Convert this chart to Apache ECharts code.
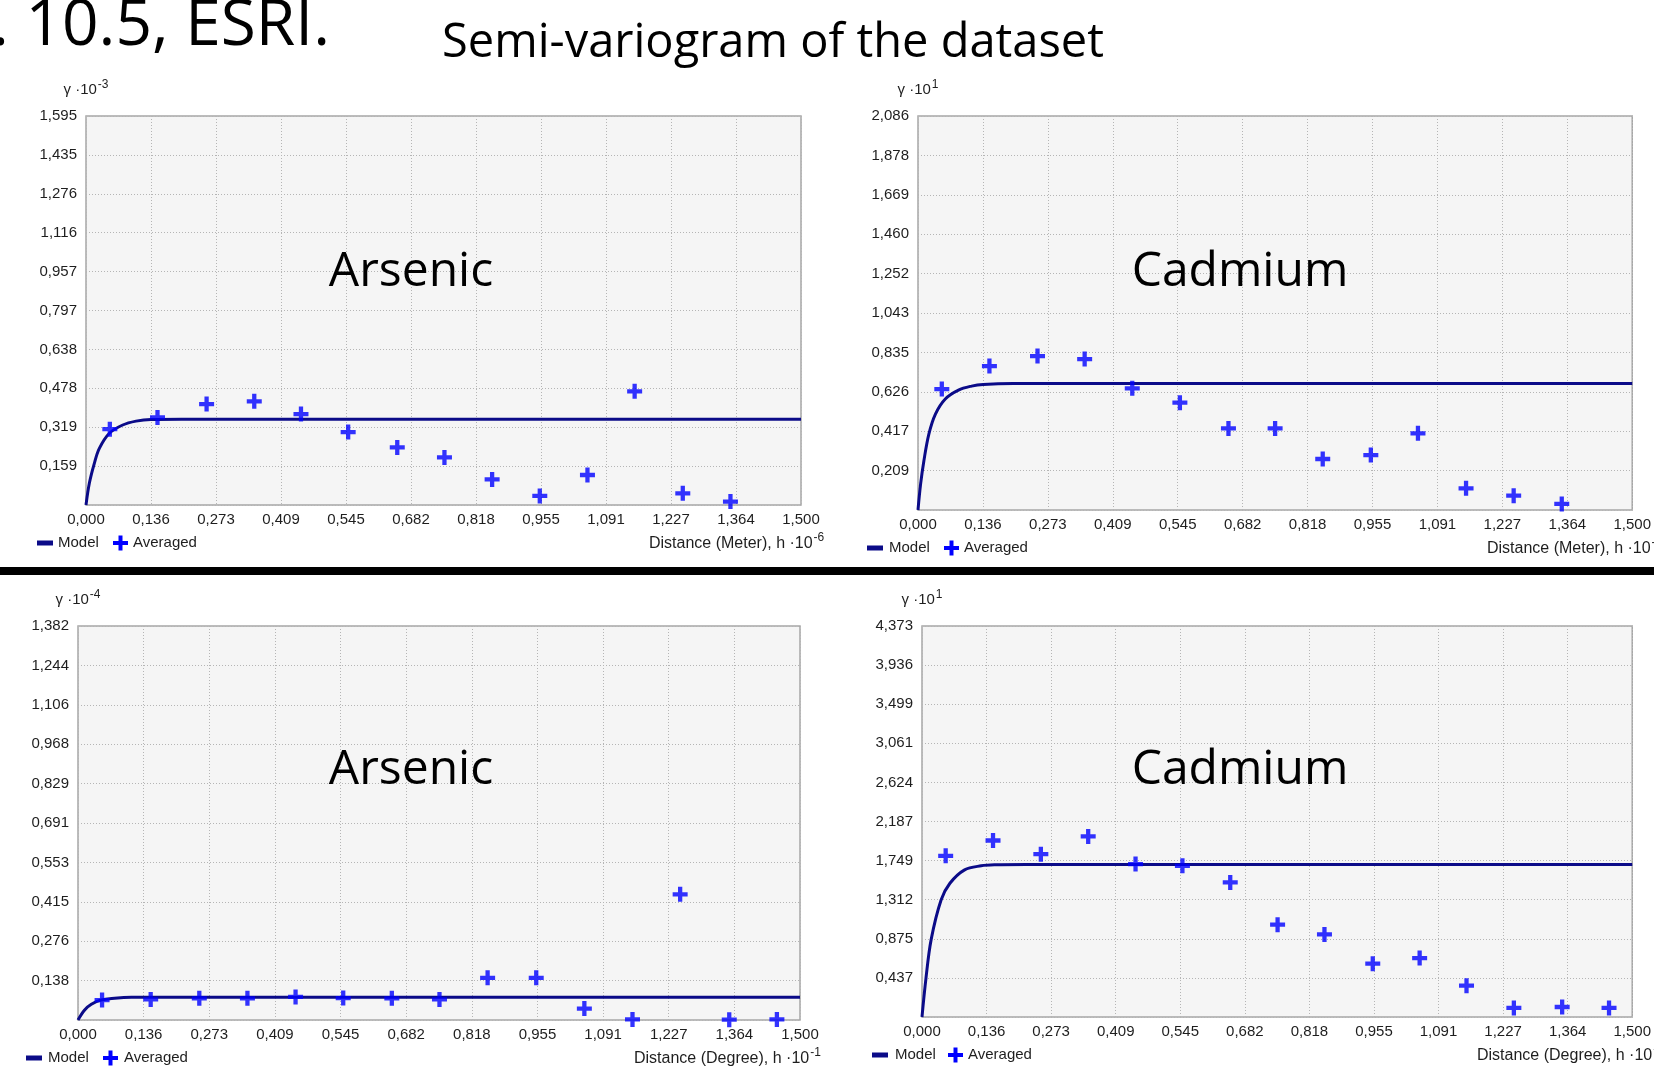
<!DOCTYPE html>
<html><head><meta charset="utf-8">
<script src="https://cdn.jsdelivr.net/npm/echarts@6/dist/echarts.min.js"></script>
<style>html,body{margin:0;padding:0;background:#fff;overflow:hidden}#c{width:1654px;height:1070px}</style>
</head><body><div id="c"></div>
<script>
// ---------- shared x axis ----------
const xTickLabels = ['0,000','0,136','0,273','0,409','0,545','0,682','0,818','0,955','1,091','1,227','1,364','1,500'];
const xMax = 1.5;

// ---------- Panel 1: Arsenic (Meter) ----------
const as1Ticks = ['','0,159','0,319','0,478','0,638','0,797','0,957','1,116','1,276','1,435','1,595'];
const as1YMax = 1.595;
const as1LagX = [0.05,0.15,0.253,0.353,0.451,0.55,0.653,0.752,0.852,0.952,1.052,1.151,1.252,1.352];
const as1Avg  = [0.311,0.359,0.414,0.425,0.373,0.299,0.236,0.195,0.105,0.037,0.123,0.466,0.048,0.014];
const as1ModelX = [0,0.007,0.0175,0.028,0.049,0.077,0.105,0.136,0.2,1.5];
const as1ModelY = [0,0.089,0.171,0.232,0.294,0.328,0.344,0.351,0.352,0.352];

// ---------- Panel 2: Cadmium (Meter) ----------
const cd1Ticks = ['','0,209','0,417','0,626','0,835','1,043','1,252','1,460','1,669','1,878','2,086'];
const cd1YMax = 2.086;
const cd1LagX = [0.05,0.15,0.251,0.35,0.45,0.55,0.652,0.75,0.85,0.951,1.05,1.151,1.251,1.352];
const cd1Avg  = [0.640,0.762,0.815,0.799,0.644,0.568,0.432,0.432,0.270,0.291,0.406,0.115,0.076,0.032];
const cd1ModelX = [0,0.0055,0.0124,0.0228,0.0366,0.0573,0.085,0.1125,0.137,0.2,1.5];
const cd1ModelY = [0,0.138,0.261,0.402,0.508,0.588,0.635,0.656,0.665,0.670,0.670];

// ---------- Panel 3: Arsenic (Degree) ----------
const as2Ticks = ['','0,138','0,276','0,415','0,553','0,691','0,829','0,968','1,106','1,244','1,382'];
const as2YMax = 1.382;
const as2LagX = [0.05,0.151,0.252,0.352,0.452,0.551,0.652,0.751,0.851,0.952,1.052,1.152,1.251,1.353,1.452];
const as2Avg  = [0.070,0.072,0.076,0.076,0.081,0.077,0.076,0.072,0.148,0.148,0.040,0.002,0.441,0.001,0.002];
const as2ModelX = [0,0.0138,0.0277,0.048,0.076,0.111,0.16,1.5];
const as2ModelY = [0,0.035,0.055,0.070,0.076,0.0795,0.080,0.080];

// ---------- Panel 4: Cadmium (Degree) ----------
const cd2Ticks = ['','0,437','0,875','1,312','1,749','2,187','2,624','3,061','3,499','3,936','4,373'];
const cd2YMax = 4.373;
const cd2LagX = [0.05,0.15,0.251,0.351,0.451,0.55,0.651,0.751,0.85,0.952,1.051,1.15,1.25,1.352,1.451];
const cd2Avg  = [1.803,1.974,1.821,2.019,1.710,1.691,1.505,1.032,0.924,0.596,0.659,0.350,0.101,0.112,0.101];
const cd2ModelX = [0,0.0083,0.0194,0.0403,0.059,0.09,0.125,0.153,0.22,1.5];
const cd2ModelY = [0,0.430,0.868,1.309,1.496,1.646,1.691,1.702,1.705,1.705];

// ---------- texts ----------
const pageTitle = 'Semi-variogram of the dataset';
const cornerText = '. 10.5, ESRI.';
const panelNames = ['Arsenic','Cadmium','Arsenic','Cadmium'];
const yExp = ['-3','1','-4','1'];
const xTitles = ['Distance (Meter), h ·10','Distance (Meter), h ·10','Distance (Degree), h ·10','Distance (Degree), h ·10'];
const xExp = ['-6','-6','-1','-1'];
const legendNames = ['Model','Averaged'];

// ---------- layout (px) ----------
const grids = [
  {left:86, top:116, width:715, height:389},
  {left:918, top:116, width:724, height:394},
  {left:78, top:626, width:722, height:394},
  {left:922, top:626, width:720, height:391}
];
const panels = [
  {ticks:as1Ticks, yMax:as1YMax, lagX:as1LagX, avg:as1Avg, mx:as1ModelX, my:as1ModelY},
  {ticks:cd1Ticks, yMax:cd1YMax, lagX:cd1LagX, avg:cd1Avg, mx:cd1ModelX, my:cd1ModelY},
  {ticks:as2Ticks, yMax:as2YMax, lagX:as2LagX, avg:as2Avg, mx:as2ModelX, my:as2ModelY},
  {ticks:cd2Ticks, yMax:cd2YMax, lagX:cd2LagX, avg:cd2Avg, mx:cd2ModelX, my:cd2ModelY}
];
const labelPos = [[411,272],[1240,272],[411,770],[1240,770]];
const legendY = [543,548,1058,1055];
const legendX = [ // icon, modelText, plus, averagedText
  [37,58,113,133],[867,889,944,964],[26,48,103,124],[872,895,948,968]
];
const xTitleX = [649,1487,634,1477];
const xTitleY = [543,548,1058,1055];

const crossPath = 'path://M5,0H9V5H14V9H9V14H5V9H0V5H5Z';
const LINE_COLOR = '#0b0b88';
const PT_COLOR = '#0000ff';
const TXT = '#1e1e1e';
const tickFont = '"Liberation Sans", Arial, sans-serif';
const bigFont = '"Open Sans", "Noto Sans", sans-serif';

const xStep = xMax / 11;
const option = {
  animation: false,
  backgroundColor: '#ffffff',
  grid: grids.map(g => Object.assign({show:true, backgroundColor:'#f5f5f5', borderColor:'#a6a6a6', borderWidth:1.5, containLabel:false}, g)),
  xAxis: panels.map((p,i) => ({
    type:'value', gridIndex:i, min:0, max:xMax, interval:xStep,
    axisLine:{show:false}, axisTick:{show:false},
    splitLine:{show:true, lineStyle:{color:'#b5b5b5', width:1, type:[1,2]}},
    axisLabel:{margin:7, color:TXT, fontSize:15, fontFamily:tickFont, showMinLabel:true, showMaxLabel:true,
      formatter: v => xTickLabels[Math.round(v / xStep)] || ''}
  })),
  yAxis: panels.map((p,i) => ({
    type:'value', gridIndex:i, min:0, max:p.yMax, interval:p.yMax/10,
    axisLine:{show:false}, axisTick:{show:false},
    splitLine:{show:true, lineStyle:{color:'#b5b5b5', width:1, type:[1,2]}},
    axisLabel:{margin:9, color:TXT, fontSize:15, fontFamily:tickFont, showMinLabel:true, showMaxLabel:true,
      formatter: v => p.ticks[Math.round(v / (p.yMax/10))] || ''},
    name:'{n|γ ·10}{s|' + yExp[i] + '}', nameLocation:'end', nameGap:16,
    nameTextStyle:{align:'center', rich:{
      n:{fontSize:15, fontFamily:tickFont, color:TXT},
      s:{fontSize:12, fontFamily:tickFont, color:TXT, padding:[0,0,9,1]}
    }}
  })),
  series: panels.flatMap((p,i) => [
    {type:'line', name:legendNames[0], xAxisIndex:i, yAxisIndex:i,
     data:p.mx.map((x,j)=>[x,p.my[j]]), smooth:0.35,
     symbol:'none', showSymbol:false, lineStyle:{color:LINE_COLOR, width:3}, z:3, silent:true},
    {type:'scatter', name:legendNames[1], xAxisIndex:i, yAxisIndex:i,
     data:p.lagX.map((x,j)=>[x,p.avg[j]]), symbol:crossPath, symbolSize:15,
     itemStyle:{color:PT_COLOR}, z:4, clip:false}
  ]),
  graphic: [].concat(
    [
      {type:'text', x:773, y:44, style:{text:pageTitle, font:'47px ' + bigFont, fill:'#000', align:'center', verticalAlign:'middle'}},
      {type:'text', x:330, y:27, style:{text:cornerText, font:'64px ' + bigFont, fill:'#000', align:'right', verticalAlign:'middle'}},
      {type:'rect', shape:{x:0, y:567, width:1654, height:8}, style:{fill:'#000'}}
    ],
    labelPos.map((pos,i) => ({type:'text', x:pos[0], y:pos[1], z:10,
      style:{text:panelNames[i], font:'48px ' + bigFont, fill:'#000', align:'center', verticalAlign:'middle'}})),
    legendX.flatMap((lx,i) => {
      const y = legendY[i];
      return [
        {type:'rect', shape:{x:lx[0], y:y-2.5, width:16, height:5}, style:{fill:LINE_COLOR}},
        {type:'text', x:lx[1], y:y, style:{text:legendNames[0], font:'15px ' + tickFont, fill:TXT, align:'left', verticalAlign:'middle'}},
        {type:'rect', shape:{x:lx[2], y:y-2, width:15, height:4}, style:{fill:PT_COLOR}},
        {type:'rect', shape:{x:lx[2]+5.5, y:y-7.5, width:4, height:15}, style:{fill:PT_COLOR}},
        {type:'text', x:lx[3], y:y, style:{text:legendNames[1], font:'15px ' + tickFont, fill:TXT, align:'left', verticalAlign:'middle'}}
      ];
    }),
    xTitleX.map((x,i) => ({type:'text', x:x, y:xTitleY[i]-11,
      style:{text:'{n|' + xTitles[i] + '}{s|' + xExp[i] + '}', align:'left', verticalAlign:'top',
        rich:{
          n:{fontSize:16, fontFamily:tickFont, fill:TXT, lineHeight:22},
          s:{fontSize:12, fontFamily:tickFont, fill:TXT, padding:[0,0,11,1]}
        }}}))
  )
};
const chart = echarts.init(document.getElementById('c'), null, {renderer:'canvas', width:1654, height:1070});
chart.setOption(option);
</script>
</body></html>
